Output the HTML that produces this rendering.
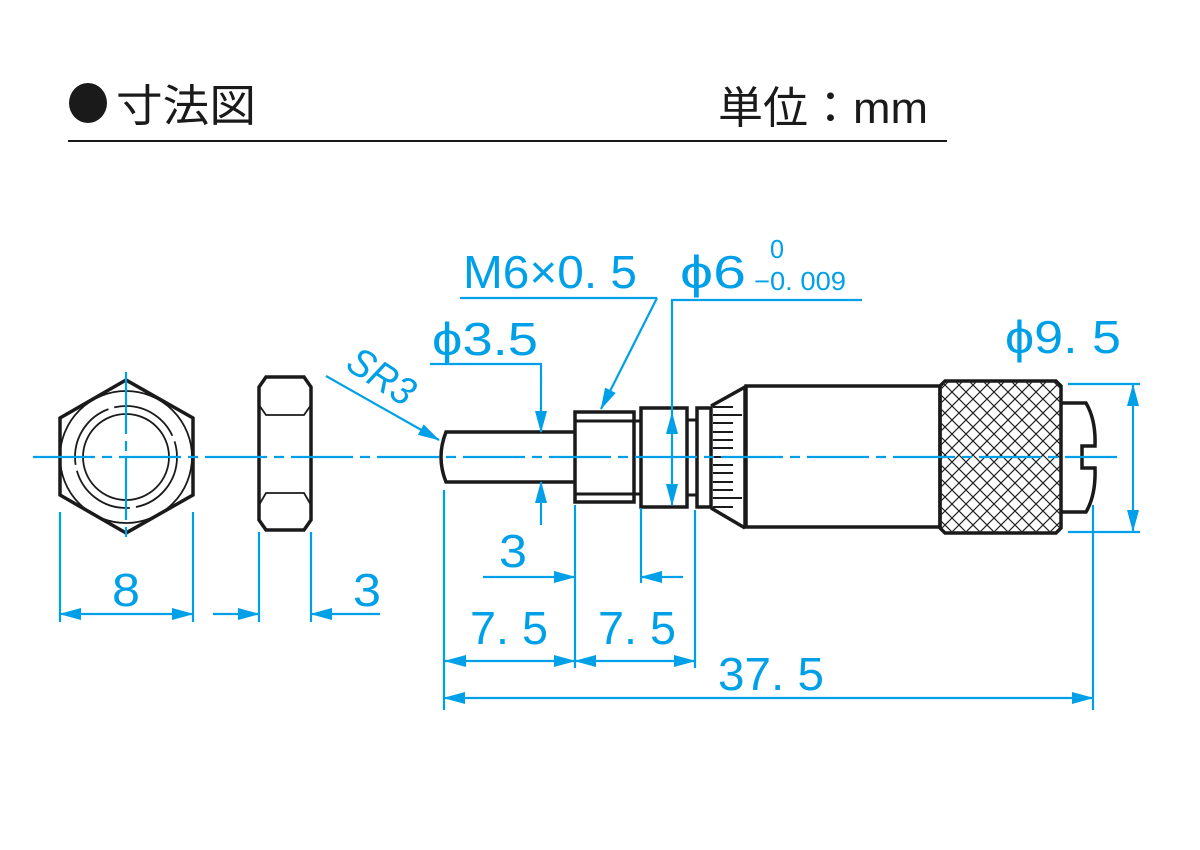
<!DOCTYPE html>
<html><head><meta charset="utf-8"><style>
html,body{margin:0;padding:0;background:#fff;}
svg{display:block;}
</style></head><body>
<svg width="1200" height="850" viewBox="0 0 1200 850" xmlns="http://www.w3.org/2000/svg">
<defs>
<marker id="a" markerUnits="userSpaceOnUse" markerWidth="22" markerHeight="12" refX="21" refY="6" orient="auto-start-reverse" viewBox="0 0 22 12">
<path d="M0,0 L22,6 L0,12 z" fill="#00a0e9"/></marker>
<clipPath id="kc"><path d="M945,381 L1056,381 L1061,386 L1061,528 L1056,533 L945,533 L940,528 L940,386 z"/></clipPath>
<pattern id="kn" width="14" height="14" patternUnits="userSpaceOnUse">
<path d="M0,0 L14,14 M14,0 L0,14" stroke="#222" stroke-width="1.2"/></pattern>
</defs>

<!-- header -->
<ellipse cx="88" cy="103" rx="19" ry="20" fill="#1a1a1a"/>
<text x="116" y="121" font-family="'Liberation Sans','Noto Sans CJK JP',sans-serif" font-size="44" fill="#1a1a1a" textLength="140" lengthAdjust="spacingAndGlyphs">寸法図</text>
<text x="718" y="123" font-family="'Liberation Sans','Noto Sans CJK JP',sans-serif" font-size="44" fill="#1a1a1a" textLength="210" lengthAdjust="spacingAndGlyphs">単位：mm</text>
<line x1="68" y1="141" x2="947" y2="141" stroke="#1a1a1a" stroke-width="2"/>

<!-- black drawing -->
<g fill="none" stroke="#1a1a1a" stroke-width="3.5" stroke-linejoin="miter">
<!-- hex front -->
<path d="M126,380 L193,418 L193,495 L126,533 L60,495 L60,418 z"/>
<circle cx="126" cy="457" r="66" stroke-width="1.8"/>
<circle cx="126" cy="457" r="51" stroke-width="1.8" stroke-dasharray="70 6"/>
<circle cx="126" cy="457" r="43" stroke-width="1.8"/>
<!-- hex side -->
<path d="M266,377 L304,377 L311,387 L311,520 L304,530 L266,530 L259,520 L259,387 z"/>
<path d="M259,405 L266,415 L304,415 L311,405 M259,505 L266,493 L304,493 L311,505" stroke-width="1.8"/>
<!-- pin -->
<path d="M575,432 L446,432 Q436,457 446,482 L575,482"/>
<rect x="575" y="412" width="59" height="90"/>
<path d="M575,421 L641,421 M575,494 L641,494" stroke-width="3"/>
<rect x="641" y="408" width="46" height="99"/>
<path d="M687,420 L697,420 M687,495 L697,495" stroke-width="3"/>
<rect x="697" y="408" width="14" height="99"/>
<path d="M711,406 L745,387 M711,508 L745,528"/>
<path d="M745,386 L745,528"/>
<rect x="746" y="386" width="194" height="141"/>
<path d="M945,381 L1056,381 L1061,386 L1061,528 L1056,533 L945,533 L940,528 L940,386 z"/>
<path d="M1061,403 L1086,403 Q1096,420 1095,446 L1082,446 L1082,468 L1095,468 Q1096,495 1086,512 L1061,512"/>
</g>
<rect x="940" y="381" width="121" height="152" fill="url(#kn)" clip-path="url(#kc)"/>
<g stroke="#1a1a1a" stroke-width="2">
<path d="M713,407 H733 M713,415 H742 M713,423 H733 M713,432 H733 M713,440 H733 M713,448 H733 M713,457 H733 M713,465 H733 M713,473 H733 M713,482 H733 M713,490 H733 M713,498 H742 M713,507 H733"/>
</g>

<!-- blue -->
<g stroke="#00a0e9" stroke-width="2.2" fill="none">
<line x1="33" y1="457" x2="1117" y2="457" stroke-dasharray="62 7 10 7"/>
<line x1="126" y1="372" x2="126" y2="542" stroke-dasharray="62 7 10 7"/>
<!-- extension lines -->
<path d="M60,512 V622 M193,512 V622 M259,532 V622 M311,532 V622"/>
<path d="M444,490 V710 M575,505 V668 M641,508 V583 M695,510 V668 M1093,505 V710"/>
<path d="M1068,384 H1140 M1068,532 H1140"/>
<!-- dims -->
<line x1="60" y1="614" x2="193" y2="614" marker-start="url(#a)" marker-end="url(#a)"/>
<line x1="213" y1="614" x2="259" y2="614" marker-end="url(#a)"/>
<line x1="380" y1="614" x2="311" y2="614" marker-end="url(#a)"/>
<line x1="483" y1="577" x2="575" y2="577" marker-end="url(#a)"/>
<line x1="683" y1="577" x2="641" y2="577" marker-end="url(#a)"/>
<line x1="445" y1="661" x2="575" y2="661" marker-start="url(#a)" marker-end="url(#a)"/>
<line x1="575" y1="661" x2="695" y2="661" marker-start="url(#a)" marker-end="url(#a)"/>
<line x1="444" y1="698" x2="1093" y2="698" marker-start="url(#a)" marker-end="url(#a)"/>
<line x1="1133" y1="385" x2="1133" y2="531" marker-start="url(#a)" marker-end="url(#a)"/>
<!-- phi3.5 -->
<path d="M430,364 H541 V380"/>
<line x1="541" y1="378" x2="541" y2="432" marker-end="url(#a)"/>
<line x1="541" y1="525" x2="541" y2="482" marker-end="url(#a)"/>
<!-- phi6 -->
<path d="M862,300 H672 V413"/>
<line x1="672" y1="413" x2="672" y2="505" marker-start="url(#a)" marker-end="url(#a)"/>
<!-- M6 -->
<path d="M460,298 H657"/>
<line x1="657" y1="298" x2="601" y2="409" marker-end="url(#a)"/>
<!-- SR3 -->
<line x1="326" y1="376" x2="439" y2="440" marker-end="url(#a)"/>
</g>

<g fill="#00a0e9" font-family="'Liberation Sans','Noto Sans CJK JP',sans-serif" font-size="46">
<text x="112" y="606" textLength="28" lengthAdjust="spacingAndGlyphs">8</text>
<text x="353" y="606" textLength="28" lengthAdjust="spacingAndGlyphs">3</text>
<text x="499" y="567" textLength="28" lengthAdjust="spacingAndGlyphs">3</text>
<text x="470" y="644" textLength="78" lengthAdjust="spacingAndGlyphs">7. 5</text>
<text x="598" y="644" textLength="78" lengthAdjust="spacingAndGlyphs">7. 5</text>
<text x="718" y="690" textLength="106" lengthAdjust="spacingAndGlyphs">37. 5</text>
<text x="463" y="288" textLength="174" lengthAdjust="spacingAndGlyphs">M6×0. 5</text>
<text x="432" y="355" textLength="106" lengthAdjust="spacingAndGlyphs">ϕ3.5</text>
<text x="680" y="288" textLength="66" lengthAdjust="spacingAndGlyphs">ϕ6</text>
<text x="1005" y="353" textLength="116" lengthAdjust="spacingAndGlyphs">ϕ9. 5</text>
<text x="770" y="258" font-size="26" textLength="14" lengthAdjust="spacingAndGlyphs">0</text>
<text x="754" y="290" font-size="26" textLength="92" lengthAdjust="spacingAndGlyphs">−0. 009</text>
<text x="344" y="368" font-size="40" font-style="italic" transform="rotate(33 344 368)" textLength="72" lengthAdjust="spacingAndGlyphs">SR3</text>
</g>
</svg>
</body></html>
